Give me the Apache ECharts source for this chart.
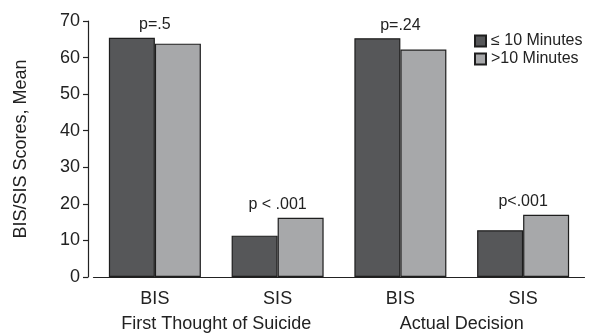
<!DOCTYPE html>
<html><head><meta charset="utf-8">
<script src="https://cdn.jsdelivr.net/npm/echarts@6/dist/echarts.min.js"></script>
<style>html,body{margin:0;padding:0;background:#fff}#c{width:591px;height:333px}</style>
</head><body><div id="c"></div>
<script>
const categories = ['BIS', 'SIS', 'BIS', 'SIS'];
const groups = ['First Thought of Suicide', 'Actual Decision'];
const seriesNames = ['\u2264 10 Minutes', '>10 Minutes'];
const shortValues = [65.4, 11.3, 65.3, 12.8];
const longValues = [63.8, 16.2, 62.2, 17.0];
const pLabels = ['p=.5', 'p < .001', 'p=.24', 'p<.001'];
const yTicks = [0, 10, 20, 30, 40, 50, 60, 70];

const FONT = 'Liberation Sans, Arial, sans-serif';
const BW = 46;

function buildData(vals, other, isShort) {
  return vals.map((v, i) => {
    const taller = isShort ? v >= other[i] : v > other[i];
    const item = { value: v };
    if (taller) {
      item.label = {
        show: true, position: 'top', distance: 5,
        offset: [isShort ? BW / 2 : -BW / 2, 0],
        formatter: pLabels[i], fontSize: 16, color: '#222', fontFamily: FONT
      };
    }
    return item;
  });
}

const chart = echarts.init(document.getElementById('c'), null, { renderer: 'canvas' });
chart.setOption({
  animation: false,
  backgroundColor: '#fff',
  textStyle: { fontFamily: FONT },
  grid: { left: 93.5, width: 491, top: 21, bottom: 56 },
  legend: {
    orient: 'vertical', left: 469, top: 28, itemWidth: 11, itemHeight: 11, itemGap: 2,
    textStyle: { fontSize: 16, color: '#222', fontFamily: FONT },
    data: seriesNames.map(n => ({ name: n, icon: 'rect' }))
  },
  xAxis: [{
    type: 'category', data: categories, position: 'bottom',
    axisLine: { lineStyle: { color: '#222', width: 1.2 } },
    axisTick: { show: false },
    axisLabel: { interval: 0, fontSize: 18, color: '#222', margin: 13, fontFamily: FONT }
  }, {
    type: 'category', data: groups, position: 'bottom', offset: 25,
    axisLine: { show: false }, axisTick: { show: false },
    axisLabel: { interval: 0, fontSize: 18, color: '#222', margin: 13, fontFamily: FONT }
  }],
  yAxis: {
    type: 'value', min: yTicks[0], max: yTicks[yTicks.length - 1], interval: 10, offset: 5.5,
    name: 'BIS/SIS Scores, Mean', nameLocation: 'middle', nameGap: 58,
    nameTextStyle: { fontSize: 18, color: '#222', fontFamily: FONT },
    axisLine: { show: true, lineStyle: { color: '#222', width: 1.2 } },
    axisTick: { show: true, length: 5, lineStyle: { color: '#222', width: 1.2 } },
    axisLabel: { fontSize: 18, color: '#222', margin: 8, fontFamily: FONT },
    splitLine: { show: false }
  },
  series: [{
    name: seriesNames[0], type: 'bar', barWidth: BW, barGap: '0%', xAxisIndex: 0,
    itemStyle: { color: '#565759', borderColor: '#1e1e1e', borderWidth: 1.2 },
    data: buildData(shortValues, longValues, true)
  }, {
    name: seriesNames[1], type: 'bar', barWidth: BW, barGap: '0%', xAxisIndex: 0,
    itemStyle: { color: '#a7a8aa', borderColor: '#1e1e1e', borderWidth: 1.2 },
    data: buildData(longValues, shortValues, false)
  }]
});
</script></body></html>
